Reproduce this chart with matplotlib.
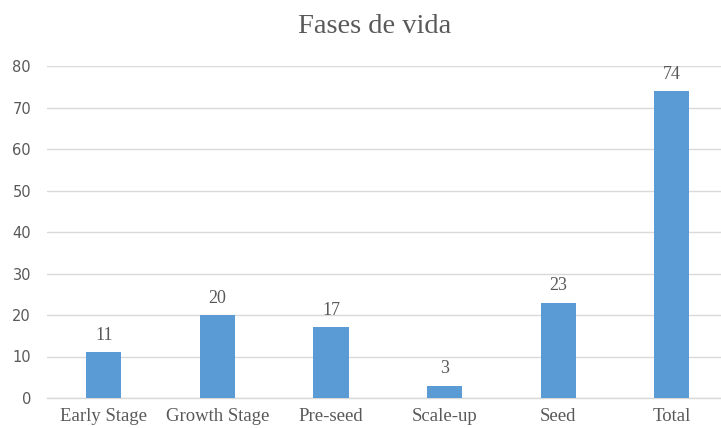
import matplotlib.pyplot as plt

categories = ['Early Stage', 'Growth Stage', 'Pre-seed', 'Scale-up', 'Seed', 'Total']
counts = [11, 20, 17, 3, 23, 74]
y_ticks = [0, 10, 20, 30, 40, 50, 60, 70, 80]

BAR_COLOR = '#5B9BD5'
GRID_COLOR = '#D9D9D9'
TEXT_COLOR = '#595959'
SERIF = ['Liberation Serif', 'DejaVu Serif']
SANS = ['DejaVu Sans']

fig = plt.figure(figsize=(7.21, 4.28), dpi=100)
ax = fig.add_axes([47 / 721, 30 / 428, (721 - 47) / 721, (398 - 66) / 428])

x = list(range(len(categories)))
bars = ax.bar(x, counts, width=0.31, color=BAR_COLOR, zorder=3)

for rect, v in zip(bars, counts):
    ax.annotate(str(v), (rect.get_x() + rect.get_width() / 2, v),
                xytext=(0, 6), textcoords='offset points',
                ha='center', va='bottom', fontsize=13,
                family=SERIF, color=TEXT_COLOR)

ax.set_ylim(0, 80)
ax.set_xlim(-0.5, -0.5 + (721 - 47) / 113.6)
ax.set_yticks(y_ticks)
ax.set_xticks(x)
ax.set_xticklabels(categories, family=SERIF, fontsize=13.5, color=TEXT_COLOR)
for lbl in ax.get_yticklabels():
    lbl.set_family(SANS)
    lbl.set_fontsize(10.5)
    lbl.set_color(TEXT_COLOR)

ax.yaxis.grid(True, color=GRID_COLOR, linewidth=1, zorder=0)
ax.tick_params(axis='both', length=0)
ax.tick_params(axis='y', pad=11.5)
ax.tick_params(axis='x', pad=7)
for side in ['top', 'right', 'left']:
    ax.spines[side].set_visible(False)
ax.spines['bottom'].set_color(GRID_COLOR)
ax.spines['bottom'].set_linewidth(1)

fig.text(375 / 721, 1 - 33 / 428, 'Fases de vida', ha='center', va='baseline',
         fontsize=20.5, family=SERIF, color=TEXT_COLOR)

fig.savefig('out.png', dpi=100)
